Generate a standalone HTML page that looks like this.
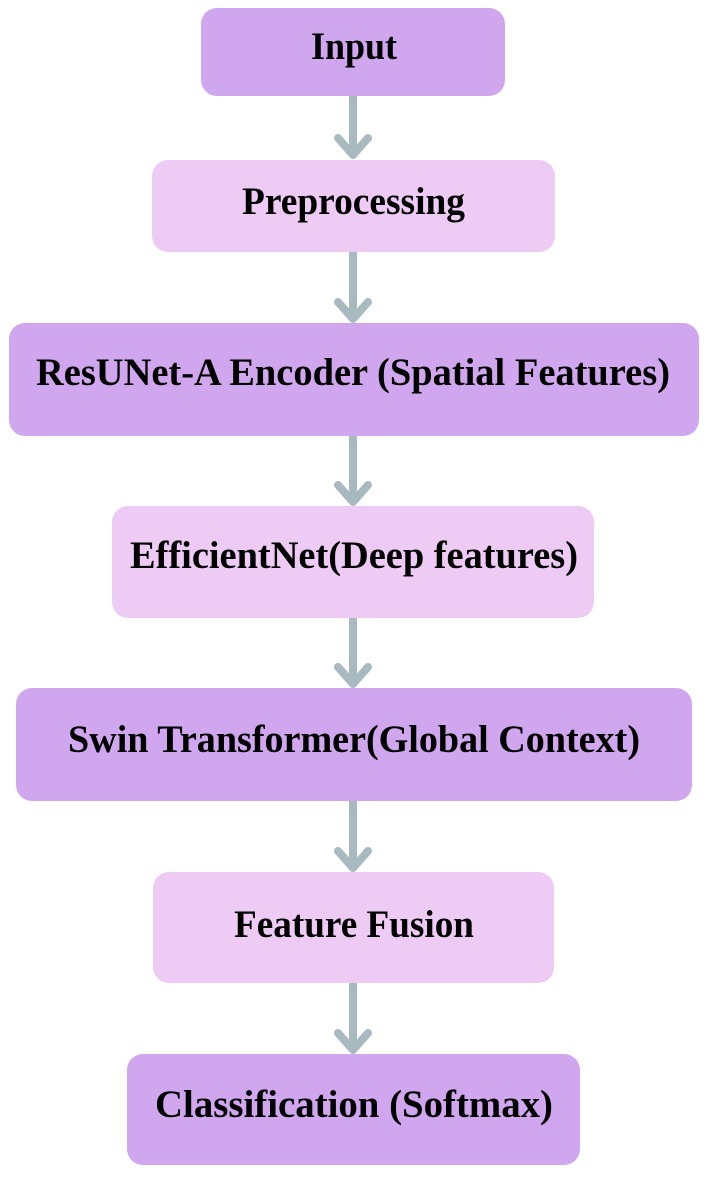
<!DOCTYPE html>
<html><head><meta charset="utf-8"><style>
html,body{margin:0;padding:0;background:#fff;}
svg{display:block;}
text{font-family:"Liberation Serif",serif;font-weight:bold;font-size:39px;fill:#000;}
</style></head><body>
<svg width="709" height="1177" viewBox="0 0 709 1177" xmlns="http://www.w3.org/2000/svg">
<g stroke="#a9b9c0" stroke-width="8" fill="none" stroke-linecap="round" stroke-linejoin="round">
<line x1="353" y1="96" x2="353" y2="154"/><polyline points="338,138 353,155 368,138"/>
<line x1="353" y1="252" x2="353" y2="318"/><polyline points="338,302 353,319 368,302"/>
<line x1="353" y1="436" x2="353" y2="501"/><polyline points="338,485 353,502 368,485"/>
<line x1="353" y1="618" x2="353" y2="683"/><polyline points="338,667 353,684 368,667"/>
<line x1="353" y1="801" x2="353" y2="867"/><polyline points="338,851 353,868 368,851"/>
<line x1="353" y1="983" x2="353" y2="1049"/><polyline points="338,1033 353,1050 368,1033"/>
</g>
<rect x="201" y="8" width="304" height="88" rx="16" fill="#d0a6ee"/>
<rect x="152" y="160" width="403" height="92" rx="16" fill="#eecbf5"/>
<rect x="9" y="323" width="690" height="113" rx="16" fill="#d0a6ee"/>
<rect x="112" y="506" width="482" height="112" rx="16" fill="#eecbf5"/>
<rect x="16" y="688" width="676" height="113" rx="16" fill="#d0a6ee"/>
<rect x="153" y="872" width="401" height="111" rx="16" fill="#eecbf5"/>
<rect x="127" y="1054" width="453" height="111" rx="16" fill="#d0a6ee"/>
<text x="311" y="59" textLength="86" lengthAdjust="spacingAndGlyphs">Input</text>
<text x="242" y="214" textLength="223" lengthAdjust="spacingAndGlyphs">Preprocessing</text>
<text x="36" y="385" textLength="634" lengthAdjust="spacingAndGlyphs">ResUNet-A Encoder (Spatial Features)</text>
<text x="130" y="568" textLength="448" lengthAdjust="spacingAndGlyphs">EfficientNet(Deep features)</text>
<text x="68" y="752" textLength="572" lengthAdjust="spacingAndGlyphs">Swin Transformer(Global Context)</text>
<text x="234" y="937" textLength="240" lengthAdjust="spacingAndGlyphs">Feature Fusion</text>
<text x="155" y="1117" textLength="398" lengthAdjust="spacingAndGlyphs">Classification (Softmax)</text>
</svg>
</body></html>
